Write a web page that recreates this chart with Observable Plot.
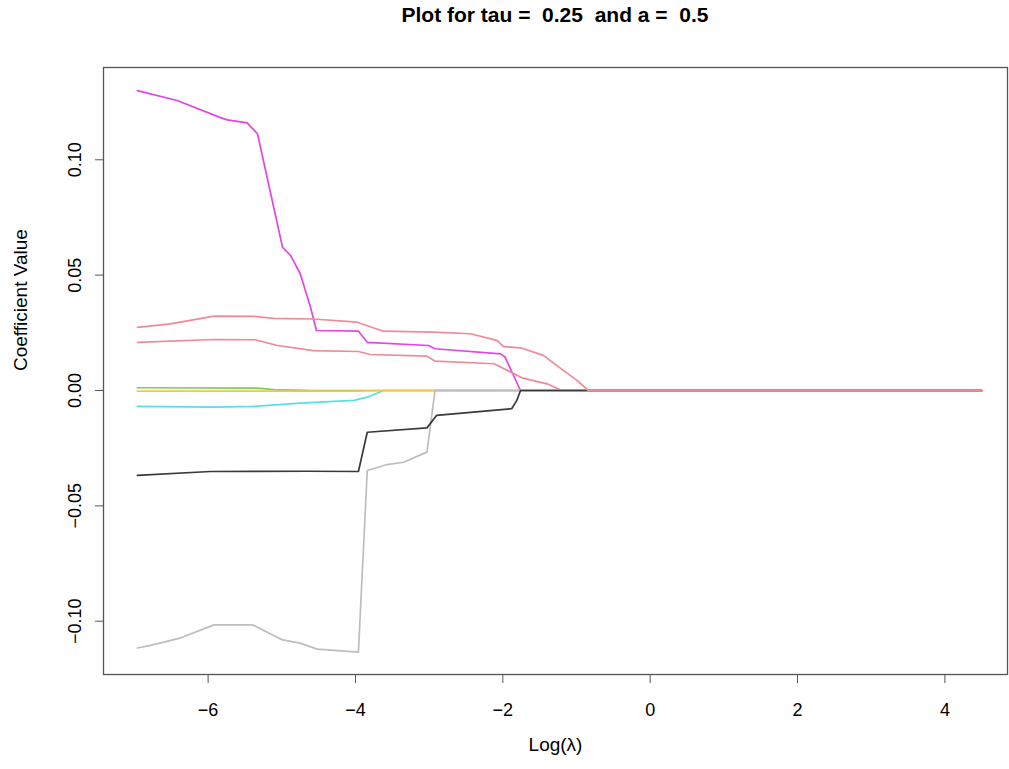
<!DOCTYPE html>
<html>
<head>
<meta charset="utf-8">
<script src="https://cdn.jsdelivr.net/npm/d3@7"></script>
<script src="https://cdn.jsdelivr.net/npm/@observablehq/plot@0.6"></script>
<style>
  html, body { margin: 0; padding: 0; background: #fff; }
  #title { height: 40px; box-sizing: border-box; padding: 3px 2px 0 103px; text-align: center;
    font-family: "Liberation Sans", Arial, sans-serif; font-weight: bold; font-size: 21px; white-space: pre; color: #000; }
</style>
</head>
<body>
<div id="title">Plot for tau =  0.25  and a =  0.5</div>
<div id="chart"></div>
<script>
// Series (x = log(lambda), y = coefficient)
const seriesNames = ["green", "cyan", "magenta", "pinkLower", "yellow", "gray", "black", "pinkUpper"];
const seriesColors = ["#7ccf5e", "#55e0e6", "#e246e4", "#f08a96", "#f2c93a", "#bdbdbd", "#3a3a3a", "#f08a96"];

const greenX = [-6.96, -5.33, -5.11, -4.57, 4.50];
const greenY = [0.0012, 0.0010, 0.0004, 0, 0];

const cyanX = [-6.96, -5.92, -5.38, -4.75, -4.02, -3.84, -3.62, 4.50];
const cyanY = [-0.0069, -0.0072, -0.0069, -0.0055, -0.0043, -0.0029, 0, 0];

const magentaX = [-6.96, -6.42, -5.85, -5.74, -5.47, -5.33, -4.99, -4.88, -4.75, -4.61, -4.53, -3.96, -3.84, -3.01, -2.92, -2.03, -1.97, -1.76, 4.50];
const magentaY = [0.130, 0.1257, 0.1185, 0.1173, 0.1160, 0.1113, 0.0621, 0.0585, 0.0506, 0.0361, 0.0260, 0.0257, 0.0209, 0.0195, 0.0181, 0.0159, 0.0145, 0, 0];

const pinkLowerX = [-6.96, -5.92, -5.36, -5.06, -4.57, -3.96, -3.80, -3.03, -2.92, -2.12, -1.74, -1.40, -1.20, 4.50];
const pinkLowerY = [0.0209, 0.0221, 0.0220, 0.0195, 0.0173, 0.0169, 0.0156, 0.0149, 0.0127, 0.0116, 0.0055, 0.0029, 0, 0];

const yellowX = [-6.96, -4.00, -3.60, 4.50];
const yellowY = [-0.0003, -0.0003, 0, 0];

const grayX = [-6.96, -6.78, -6.37, -5.92, -5.40, -5.33, -4.99, -4.75, -4.52, -3.96, -3.84, -3.57, -3.35, -3.03, -2.92, 4.50];
const grayY = [-0.1116, -0.1105, -0.1072, -0.1016, -0.1016, -0.1026, -0.1081, -0.1095, -0.1121, -0.1134, -0.0347, -0.0321, -0.0311, -0.0267, 0, 0];

const blackX = [-6.96, -5.97, -4.65, -3.96, -3.84, -3.03, -2.90, -1.88, -1.81, -1.76, 4.50];
const blackY = [-0.0368, -0.0351, -0.0350, -0.0351, -0.0181, -0.0162, -0.0108, -0.0079, -0.0043, 0, 0];

const pinkUpperX = [-6.96, -6.51, -5.92, -5.38, -5.11, -4.57, -3.98, -3.62, -2.94, -2.44, -2.08, -1.99, -1.76, -1.45, -1.18, -0.99, -0.84, 4.50];
const pinkUpperY = [0.0274, 0.0289, 0.0322, 0.0321, 0.0313, 0.0310, 0.0296, 0.0257, 0.0253, 0.0246, 0.0217, 0.0190, 0.0185, 0.0152, 0.0087, 0.0043, 0, 0];

const xTicks = [-6, -4, -2, 0, 2, 4];
const yTicks = [-0.10, -0.05, 0.00, 0.05, 0.10];

const seriesXY = {
  green: [greenX, greenY], cyan: [cyanX, cyanY], magenta: [magentaX, magentaY],
  pinkLower: [pinkLowerX, pinkLowerY], yellow: [yellowX, yellowY], gray: [grayX, grayY],
  black: [blackX, blackY], pinkUpper: [pinkUpperX, pinkUpperY]
};

const lineMarks = seriesNames.map((name, i) => {
  const [xs, ys] = seriesXY[name];
  const rows = xs.map((x, j) => ({x, y: ys[j]}));
  return Plot.line(rows, {x: "x", y: "y", stroke: seriesColors[i], strokeWidth: 1.7});
});

const chart = Plot.plot({
  width: 1009,
  height: 729,
  marginLeft: 103,
  marginRight: 2,
  marginTop: 27,
  marginBottom: 95,
  style: {fontFamily: "Liberation Sans, Arial, sans-serif", fontSize: "18px", color: "#000", background: "#fff"},
  x: {domain: [-7.42, 4.85]},
  y: {domain: [-0.1231, 0.1400]},
  marks: [
    ...lineMarks,
    Plot.frame({stroke: "#555", strokeWidth: 1.3}),
    Plot.axisX(xTicks, {tickSize: 9, tickPadding: 20, stroke: "#555", fontSize: 18, label: null, tickFormat: d => d3.format("d")(d).replace("-", "\u2212")}),
    Plot.axisY(yTicks, {tickSize: 8, tickPadding: 15, tickRotate: -90, stroke: "#555", fontSize: 18, label: null, tickFormat: d => d3.format(".2f")(d).replace("-", "\u2212")}),
    Plot.text(["Log(\u03bb)"], {frameAnchor: "bottom", dy: 76, fontSize: 19}),
    Plot.text(["Coefficient Value"], {frameAnchor: "left", dx: -83, rotate: -90, fontSize: 19})
  ]
});
document.getElementById("chart").appendChild(chart);
</script>
</body>
</html>
